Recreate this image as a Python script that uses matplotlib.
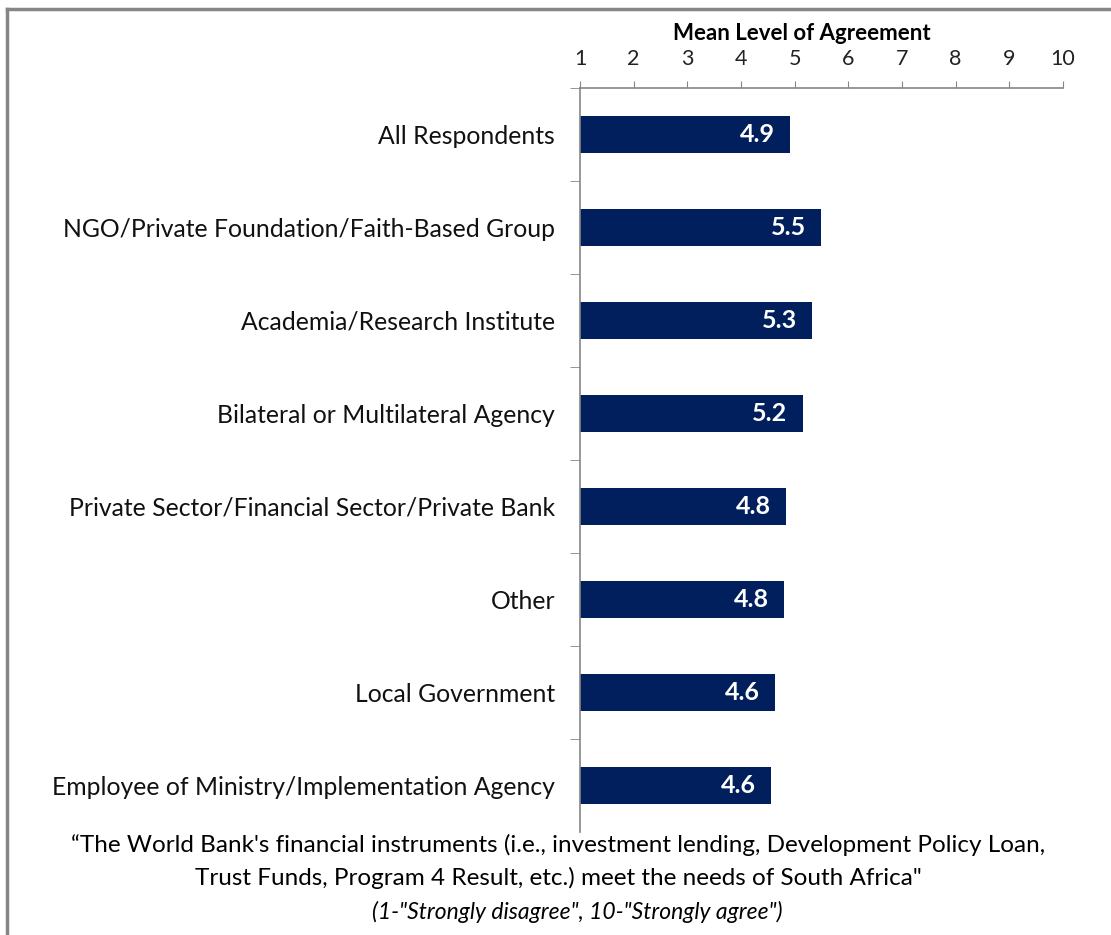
import matplotlib.pyplot as plt
from matplotlib.lines import Line2D

plt.rcParams['font.family'] = ['Lato', 'DejaVu Sans']

groups = ['All Respondents',
          'NGO/Private Foundation/Faith-Based Group',
          'Academia/Research Institute',
          'Bilateral or Multilateral Agency',
          'Private Sector/Financial Sector/Private Bank',
          'Other',
          'Local Government',
          'Employee of Ministry/Implementation Agency']
means = [4.91, 5.49, 5.32, 5.15, 4.84, 4.80, 4.63, 4.56]
xticks = [1, 2, 3, 4, 5, 6, 7, 8, 9, 10]

navy = '#001f5c'
grey = '#868686'

fig = plt.figure(figsize=(11.11, 9.35), dpi=100)
ax = fig.add_axes([580/1111, 1-832/935, (1063-580)/1111, 744/935])

ypos = list(range(len(groups)))
ax.barh(ypos, [m - 1 for m in means], left=1, height=0.39, color=navy)
for y, m in zip(ypos, means):
    ax.annotate('%.1f' % m, (m, y), xytext=(-11, 0), textcoords='offset points',
                ha='right', va='center', color='white', fontsize=18, fontweight='bold')

ax.set_xlim(1, 10)
ax.set_ylim(len(groups) - 0.5, -0.5)
ax.xaxis.tick_top()
ax.set_xticks(xticks)
ax.set_xticklabels([str(t) for t in xticks], fontsize=15.5, color='#222222')
ax.tick_params(axis='x', length=5, color=grey, pad=9)
ax.set_yticks(ypos)
ax.set_yticklabels(groups, fontsize=17.8, color='#111111')
ax.set_yticks([i + 0.5 for i in range(-1, len(groups) - 1)], minor=True)
ax.tick_params(axis='y', which='major', length=0, pad=18)
ax.tick_params(axis='y', which='minor', length=7, color=grey)

for s in ['right', 'bottom']:
    ax.spines[s].set_visible(False)
for s in ['left', 'top']:
    ax.spines[s].set_color(grey)
    ax.spines[s].set_linewidth(1.2)

fig.text(802/1111, 1-33/935, 'Mean Level of Agreement', ha='center', va='center',
         fontsize=16, fontweight='bold')

fig.text(558/1111, 1-845/935,
         '\u201cThe World Bank\'s financial instruments (i.e., investment lending, Development Policy Loan,',
         ha='center', va='center', fontsize=17.5)
fig.text(558/1111, 1-878/935,
         'Trust Funds, Program 4 Result, etc.) meet the needs of South Africa"',
         ha='center', va='center', fontsize=17.5)
fig.text(577/1111, 1-912/935, '(1-"Strongly disagree", 10-"Strongly agree")',
         ha='center', va='center', fontsize=16.5, style='italic')

# outer frame (top and left edges)
fig.add_artist(Line2D([7/1111, 1], [1-9/935, 1-9/935], color=grey, lw=2.5))
fig.add_artist(Line2D([7/1111, 7/1111], [0, 1-9/935], color=grey, lw=2.5))

fig.savefig('out.png', dpi=100)
